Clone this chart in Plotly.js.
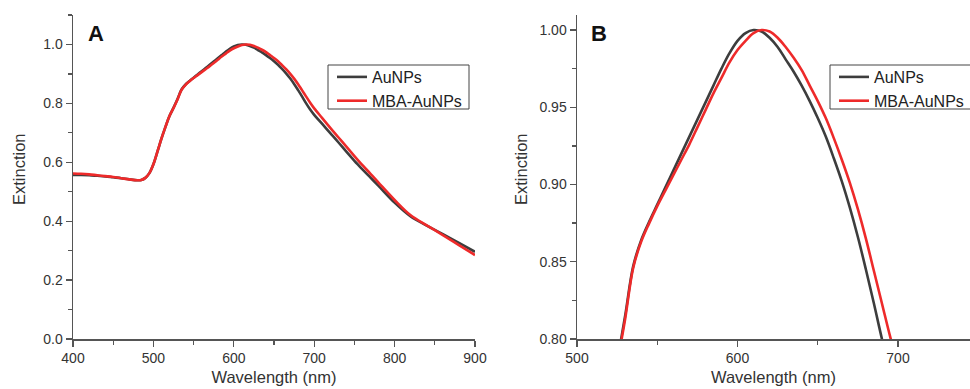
<!DOCTYPE html>
<html>
<head>
<meta charset="utf-8">
<script src="https://cdn.plot.ly/plotly-3.0.1.min.js"></script>
<style>html,body{margin:0;padding:0;background:#fff;}#chart{width:970px;height:389px;}</style>
</head>
<body>
<div id="chart"></div>
<script>
// Wavelength (nm)
const wavelength = [400,410,420,430,440,450,460,470,480,485,
  490,495,500,505,510,515,520,525,530,535,
  540,545,550,555,560,565,570,575,580,585,
  590,595,600,605,610,615,620,625,630,635,
  640,645,650,655,660,665,670,675,680,685,
  690,695,700,
  710,720,730,740,750,760,770,780,
  800,820,840,860,880,900];
// Normalised extinction, AuNPs
const auNPs = [0.557,0.557,0.556,0.554,0.552,0.549,0.546,0.542,0.539,0.540,
  0.547,0.563,0.593,0.636,0.680,0.720,0.757,0.785,0.815,0.847,
  0.864,0.876,0.887,0.898,0.909,0.920,0.931,0.942,0.953,0.964,
  0.975,0.985,0.993,0.998,1.000,0.999,0.995,0.989,0.981,0.973,
  0.964,0.954,0.943,0.931,0.917,0.902,0.885,0.866,0.845,0.823,
  0.800,0.779,0.761,
  0.730,0.699,0.668,0.636,0.605,0.576,0.548,0.520,
  0.463,0.416,0.385,0.356,0.326,0.296];
// Normalised extinction, MBA-AuNPs
const mbaAuNPs = [0.562,0.561,0.559,0.556,0.553,0.550,0.546,0.542,0.539,0.540,
  0.547,0.563,0.593,0.636,0.680,0.720,0.757,0.784,0.813,0.846,
  0.863,0.875,0.886,0.896,0.906,0.916,0.926,0.937,0.948,0.959,
  0.969,0.979,0.987,0.993,0.998,1.000,0.999,0.995,0.989,0.982,
  0.974,0.964,0.954,0.943,0.930,0.916,0.901,0.884,0.865,0.844,
  0.823,0.802,0.783,
  0.750,0.717,0.685,0.653,0.621,0.590,0.561,0.531,
  0.472,0.420,0.386,0.353,0.319,0.285];
const seriesNames = ['AuNPs','MBA-AuNPs'];
const panelLabels = ['A','B'];
const xTitle = 'Wavelength (nm)';
const yTitle = 'Extinction';

const GRAY = '#3d3d3d', RED = '#ee2a2a';
const FONT = 'Liberation Sans, Arial, sans-serif';
const W = 970, H = 389;
const yDom = [(H-339)/H, (H-15)/H];

function tr(y, color, name, xa, ya, legend) {
  return {x: wavelength, y: y, type:'scatter', mode:'lines', name: name,
    xaxis: xa, yaxis: ya, legend: legend,
    line:{color: color, width: 2.6, shape:'spline', smoothing:1}};
}
const data = [
  tr(auNPs, GRAY, seriesNames[0], 'x', 'y', 'legend'),
  tr(mbaAuNPs, RED, seriesNames[1], 'x', 'y', 'legend'),
  tr(auNPs, GRAY, seriesNames[0], 'x2', 'y2', 'legend2'),
  tr(mbaAuNPs, RED, seriesNames[1], 'x2', 'y2', 'legend2')
];

const axBase = {
  showgrid:false, zeroline:false, showline:true, linecolor:'#555', linewidth:1.5,
  ticks:'outside', ticklen:6, tickwidth:1.3, tickcolor:'#555',
  tickfont:{family:FONT, size:14, color:'#333'},
  automargin:false
};
function xax(domain, range, anchor) {
  return Object.assign({}, axBase, {domain: domain, range: range, anchor: anchor, dtick:100, tick0:0,
    minor:{ticks:'outside', ticklen:4, tickcolor:'#555', dtick:50, tick0:0},
    title:{text:xTitle, font:{family:FONT, size:16.5, color:'#333'}, standoff:6}});
}
function yax(range, anchor, dtick, fmt) {
  return Object.assign({}, axBase, {domain: yDom, range: range, anchor: anchor, dtick: dtick, tick0:0, tickformat: fmt,
    minor:{ticks:'outside', ticklen:4, tickcolor:'#555', dtick: dtick/2, tick0:0}});
}
const legBase = {borderwidth:0, bgcolor:'rgba(0,0,0,0)',
  font:{family:FONT, size:16, color:'#222'}, xanchor:'left', yanchor:'top',
  tracegroupgap:0, itemwidth:30};

function box(x0, x1) {
  return {type:'rect', xref:'paper', yref:'paper', x0:x0/W, x1:x1/W, y0:(H-109)/H, y1:(H-65)/H,
    line:{color:'#444', width:1}, fillcolor:'rgba(0,0,0,0)', layer:'above'};
}
function ytitle(xc) {
  return {text:yTitle, xref:'paper', yref:'paper', x:xc/W, y:(H-169)/H, textangle:-90, showarrow:false,
    xanchor:'center', yanchor:'middle', font:{family:FONT, size:16.5, color:'#333'}};
}

const layout = {
  width: W, height: H, margin:{l:0, r:0, t:0, b:0},
  paper_bgcolor:'#fff', plot_bgcolor:'#fff', showlegend:true,
  xaxis: xax([73/W, 475/W], [400, 900], 'y'),
  yaxis: yax([0, 1.1], 'x', 0.2, '.1f'),
  xaxis2: xax([577/W, 1], [500, 500 + (970-577)/1.605], 'y2'),
  yaxis2: yax([0.8, 1.0097], 'x2', 0.05, '.2f'),
  legend: Object.assign({}, legBase, {x: 332/W, y: (H-60)/H}),
  legend2: Object.assign({}, legBase, {x: 834/W, y: (H-60)/H}),
  shapes: [box(328, 469), box(830, 975)],
  annotations: [
    ytitle(19), ytitle(521),
    {text:'<b>'+panelLabels[0]+'</b>', xref:'paper', yref:'paper', x:96/W, y:(H-34)/H, showarrow:false,
     font:{family:FONT, size:22, color:'#111'}, xanchor:'center', yanchor:'middle'},
    {text:'<b>'+panelLabels[1]+'</b>', xref:'paper', yref:'paper', x:599/W, y:(H-34)/H, showarrow:false,
     font:{family:FONT, size:22, color:'#111'}, xanchor:'center', yanchor:'middle'}
  ]
};
Plotly.newPlot('chart', data, layout, {displayModeBar:false, staticPlot:true});
</script>
</body>
</html>
